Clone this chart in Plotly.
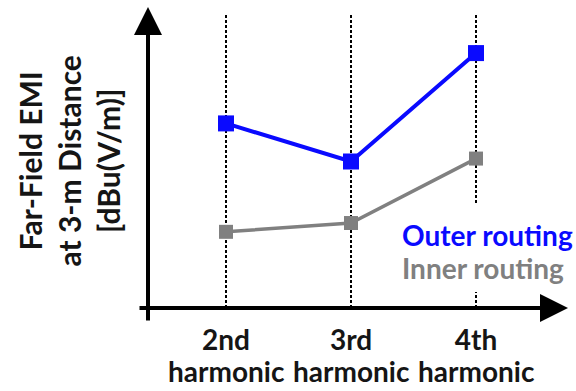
import plotly.graph_objects as go

# ---- data (relative EMI level, arbitrary dB scale) ----
harmonics = ["2nd", "3rd", "4th"]
harmonic_word = ["harmonic", "harmonic", "harmonic"]
outer_routing = [63, 50, 87]
inner_routing = [26, 29, 51]
series_names = ["Outer routing", "Inner routing"]
y_title_lines = ["Far-Field EMI", "at 3-m Distance", "[dBu(V/m)]"]

FONT = "Lato"
BLUE = "#0a0aff"
GRAY = "#808080"
TXT = "#151515"

W, H = 576, 391
L, R, T, B = 148, 8, 15, 83
pw, ph = W - L - R, H - T - B

xpos = list(range(len(harmonics)))

fig = go.Figure()
fig.add_trace(go.Scatter(
    x=xpos, y=inner_routing, mode="lines+markers", name=series_names[1],
    line=dict(color=GRAY, width=3.5),
    marker=dict(symbol="square", size=14, color=GRAY),
))
fig.add_trace(go.Scatter(
    x=xpos, y=outer_routing, mode="lines+markers", name=series_names[0],
    line=dict(color=BLUE, width=4),
    marker=dict(symbol="square", size=16, color=BLUE),
))

fig.update_layout(
    width=W, height=H,
    margin=dict(l=L, r=R, t=T, b=B, pad=0),
    paper_bgcolor="white", plot_bgcolor="white",
    showlegend=False,
    font=dict(family=FONT, color=TXT),
)

fig.update_xaxes(
    range=[-0.624, 2.736],
    tickvals=xpos, ticktext=harmonics,
    tickfont=dict(family=FONT, size=28, color=TXT, weight="bold"),
    ticks="", showline=False, zeroline=False,
    showgrid=True, gridcolor="black", gridwidth=1.5, griddash="3px,2px",
    ticklabelstandoff=13,
)
fig.update_yaxes(
    range=[0, 100], showticklabels=False, ticks="", showline=False,
    zeroline=False, showgrid=False,
)

# x-axis arrow
fig.add_annotation(x=1, y=0, xref="paper", yref="paper", text="",
                   showarrow=True, ax=-430, ay=0, arrowhead=2, arrowsize=1.4,
                   arrowwidth=4, arrowcolor="black", standoff=0)
# y-axis arrow
fig.add_annotation(x=0, y=1 + 8 / ph, xref="paper", yref="paper", text="",
                   showarrow=True, ax=0, ay=315, arrowhead=2, arrowsize=1.4,
                   arrowwidth=4, arrowcolor="black", standoff=0)

# second line of tick labels
for xv, word in zip(xpos, harmonic_word):
    fig.add_annotation(x=xv, y=(308 - 371) / ph, xref="x", yref="paper",
                       text=word, showarrow=False, xanchor="center", yanchor="middle",
                       font=dict(family=FONT, size=28, color=TXT, weight="bold"))

# y-axis title
fig.add_annotation(x=(68 - L) / pw, y=0.5, xref="paper", yref="paper",
                   text="<br>".join(y_title_lines), textangle=-90, showarrow=False,
                   xanchor="center", yanchor="middle",
                   font=dict(family=FONT, size=30, color=TXT, weight="bold"))

# in-plot legend text (inner first so outer's descenders stay visible)
fig.add_annotation(x=(398 - L) / pw, y=(308 - 268) / ph, xref="paper", yref="paper",
                   text=series_names[1], showarrow=False, xanchor="left", yanchor="middle",
                   bgcolor="white", borderpad=3,
                   font=dict(family=FONT, size=28, color=GRAY, weight="bold"))
fig.add_annotation(x=(398 - L) / pw, y=(308 - 235) / ph, xref="paper", yref="paper",
                   text=series_names[0], showarrow=False, xanchor="left", yanchor="middle",
                   bgcolor="rgba(0,0,0,0)", borderpad=3,
                   font=dict(family=FONT, size=28, color=BLUE, weight="bold"))
# white mask behind legend block over the 4th gridline
fig.add_shape(type="rect", xref="paper", yref="paper",
              x0=(468 - L) / pw, x1=(484 - L) / pw,
              y0=(308 - 292) / ph, y1=(308 - 205) / ph,
              fillcolor="white", line=dict(width=0), layer="above")

fig.write_html("out.html")
